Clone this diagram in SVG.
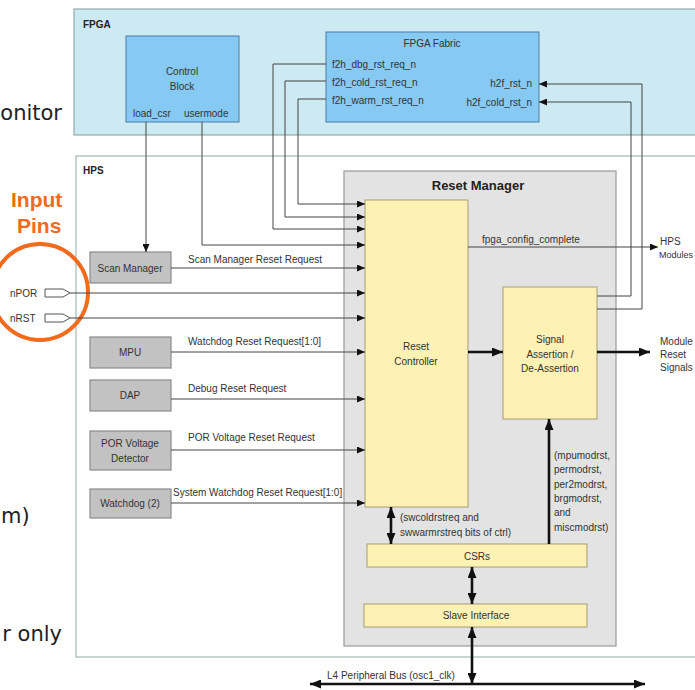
<svg xmlns="http://www.w3.org/2000/svg" width="695" height="690" viewBox="0 0 695 690">
<defs>
<style>
text{font-family:"Liberation Sans",Arial,sans-serif;fill:#333;font-size:10px}
.b{font-weight:bold;fill:#222}
.c{text-anchor:middle}
.r{text-anchor:end}
.big{font-family:"DejaVu Sans",sans-serif;font-size:21px;fill:#222}
.org{font-family:"Liberation Sans",Arial,sans-serif;font-size:21px;font-weight:bold;fill:#F26B1D}
.w{fill:none;stroke:#444;stroke-width:1}
.t{fill:none;stroke:#111;stroke-width:2.6}
.gray{fill:#c2c2c2;stroke:#8a8a8a;stroke-width:1.2}
.yel{fill:#fdf1b4;stroke:#a89d74;stroke-width:1}
.blue{fill:#86c9f3;stroke:#4d7fa3;stroke-width:1}
</style>
<marker id="a" viewBox="0 0 10 10" refX="10" refY="5" markerWidth="8" markerHeight="7" markerUnits="userSpaceOnUse" orient="auto-start-reverse" preserveAspectRatio="none"><path d="M0,0 L10,5 L0,10 z" fill="#111"/></marker>
<marker id="A" viewBox="0 0 10 10" refX="10" refY="5" markerWidth="11" markerHeight="9" markerUnits="userSpaceOnUse" orient="auto-start-reverse" preserveAspectRatio="none"><path d="M0,0 L10,5 L0,10 z" fill="#111"/></marker>
</defs>
<rect width="695" height="690" fill="#fff"/>

<g id="slide-text">
<text class="big r" x="62" y="120">onitor</text>
<text class="big" x="1" y="523">m)</text>
<text class="big r" x="62" y="641">r only</text>
</g>

<g id="fpga">
<rect x="74" y="9" width="630" height="126" fill="#cde9f1" stroke="#7f9ca2" stroke-width="1"/>
<text class="b" x="83" y="28">FPGA</text>
</g>
<g id="hps">
<rect x="76" y="156" width="630" height="501" fill="#fff" stroke="#8fa9a6" stroke-width="1"/>
<text class="b" x="83" y="174">HPS</text>
</g>

<g id="control-block">
<rect class="blue" x="126" y="36" width="113" height="86"/>
<text class="c" x="182" y="75">Control</text>
<text class="c" x="182" y="90">Block</text>
<text x="133" y="117">load_csr</text>
<text x="184" y="117">usermode</text>
</g>

<g id="fpga-fabric">
<rect class="blue" x="326" y="32" width="213" height="90"/>
<text class="c" x="432" y="47">FPGA Fabric</text>
<text x="332" y="68">f2h_dbg_rst_req_n</text>
<text x="332" y="86">f2h_cold_rst_req_n</text>
<text x="332" y="104">f2h_warm_rst_req_n</text>
<text class="r" x="532" y="87">h2f_rst_n</text>
<text class="r" x="532" y="106">h2f_cold_rst_n</text>
</g>

<g id="reset-manager">
<rect x="344" y="171" width="272" height="475" fill="#e3e3e3" stroke="#999" stroke-width="1.2"/>
<text class="b c" x="478" y="190" style="font-size:13px">Reset Manager</text>
</g>
<g id="reset-controller">
<rect class="yel" x="365" y="200" width="103" height="307"/>
<text class="c" x="416" y="350">Reset</text>
<text class="c" x="416" y="365">Controller</text>
</g>
<g id="signal-assertion">
<rect class="yel" x="503" y="287" width="94" height="132"/>
<text class="c" x="550" y="343">Signal</text>
<text class="c" x="550" y="358">Assertion /</text>
<text class="c" x="550" y="372">De-Assertion</text>
</g>
<g id="csrs">
<rect class="yel" x="367" y="544" width="220" height="23"/>
<text class="c" x="477" y="560">CSRs</text>
</g>
<g id="slave-interface">
<rect class="yel" x="364" y="604" width="223" height="23"/>
<text class="c" x="476" y="619">Slave Interface</text>
</g>

<g id="scan-manager">
<rect class="gray" x="90" y="252" width="81" height="31"/>
<text class="c" x="130" y="272">Scan Manager</text>
</g>
<g id="mpu">
<rect class="gray" x="90" y="337" width="81" height="31"/>
<text class="c" x="130" y="356">MPU</text>
</g>
<g id="dap">
<rect class="gray" x="90" y="380" width="81" height="31"/>
<text class="c" x="130" y="399">DAP</text>
</g>
<g id="por-detector">
<rect class="gray" x="90" y="431" width="81" height="39"/>
<text class="c" x="130" y="447">POR Voltage</text>
<text class="c" x="130" y="462">Detector</text>
</g>
<g id="watchdog">
<rect class="gray" x="90" y="489" width="81" height="29"/>
<text class="c" x="130" y="507">Watchdog (2)</text>
</g>

<g id="npor">
<text x="10" y="297">nPOR</text>
<path d="M45,289 H63 L70,293 L63,297 H45 Z" fill="#fff" stroke="#555" stroke-width="1"/>
</g>
<g id="nrst">
<text x="10" y="322">nRST</text>
<path d="M45,314 H63 L70,318 L63,322 H45 Z" fill="#fff" stroke="#555" stroke-width="1"/>
</g>

<g id="input-pins">
<text class="org" x="11" y="207">Input</text>
<text class="org" x="17" y="233">Pins</text>
<circle cx="40" cy="292" r="48" fill="none" stroke="#F26B1D" stroke-width="4"/>
</g>

<g id="connectors">
<path class="w" d="M146,122 V252" marker-end="url(#a)"/>
<path class="w" d="M202,122 V245 H365" marker-end="url(#a)"/>
<path class="w" d="M326,64 H273 V229 H365" marker-end="url(#a)"/>
<path class="w" d="M326,81 H285 V217 H365" marker-end="url(#a)"/>
<path class="w" d="M326,99 H298 V204 H365" marker-end="url(#a)"/>
<path class="w" d="M171,268 H365" marker-end="url(#a)"/>
<path class="w" d="M70,293 H365" marker-end="url(#a)"/>
<path class="w" d="M70,318 H365" marker-end="url(#a)"/>
<path class="w" d="M171,352 H365" marker-end="url(#a)"/>
<path class="w" d="M171,399 H365" marker-end="url(#a)"/>
<path class="w" d="M171,450 H365" marker-end="url(#a)"/>
<path class="w" d="M171,503 H365" marker-end="url(#a)"/>
<path class="w" d="M468,247 H658" marker-end="url(#a)"/>
<path class="w" d="M597,309 H642 V84 H539" marker-end="url(#a)"/>
<path class="w" d="M597,296 H631 V102 H539" marker-end="url(#a)"/>
<path class="t" d="M468,352 H503" marker-end="url(#A)"/>
<path class="t" d="M597,352 H650" marker-end="url(#A)"/>
<path class="t" d="M549,544 V419" marker-end="url(#A)"/>
<path class="t" d="M391,507 V544" marker-start="url(#A)" marker-end="url(#A)"/>
<path class="t" d="M472,567 V604" marker-start="url(#A)" marker-end="url(#A)"/>
<path class="t" d="M472,627 V684" marker-start="url(#A)" marker-end="url(#A)"/>
<path class="t" d="M310,684 H645" marker-start="url(#A)" marker-end="url(#A)"/>
<text x="188" y="263">Scan Manager Reset Request</text>
<text x="188" y="345">Watchdog Reset Request[1:0]</text>
<text x="188" y="392">Debug Reset Request</text>
<text x="188" y="441">POR Voltage Reset Request</text>
<text x="173" y="496">System Watchdog Reset Request[1:0]</text>
<text x="482" y="243">fpga_config_complete</text>
<text x="660" y="245">HPS</text>
<text x="659" y="258" style="font-size:9px">Modules</text>
<text x="660" y="345">Module</text>
<text x="660" y="358">Reset</text>
<text x="660" y="371">Signals</text>
<text x="400" y="521">(swcoldrstreq and</text>
<text x="400" y="536">swwarmrstreq bits of ctrl)</text>
<text x="554" y="459">(mpumodrst,</text>
<text x="554" y="473">permodrst,</text>
<text x="554" y="488">per2modrst,</text>
<text x="554" y="502">brgmodrst,</text>
<text x="554" y="516">and</text>
<text x="554" y="531">miscmodrst)</text>
<text x="327" y="679">L4 Peripheral Bus (osc1_clk)</text>
</g>
</svg>
